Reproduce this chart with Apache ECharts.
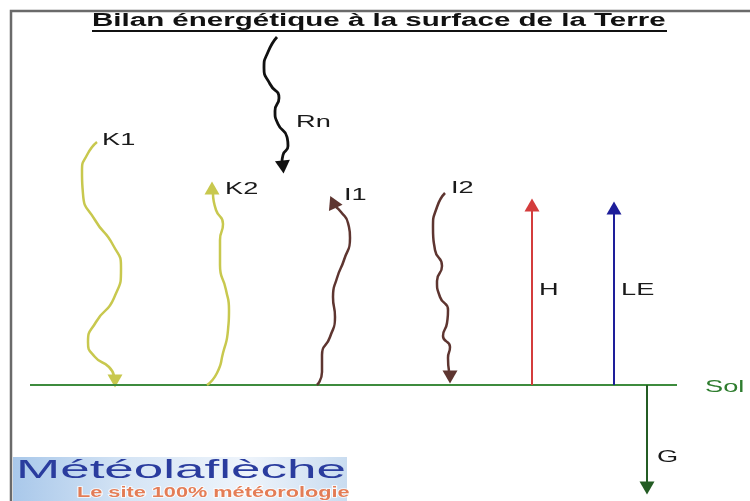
<!DOCTYPE html>
<html>
<head>
<meta charset="utf-8">
<script src="https://cdn.jsdelivr.net/npm/echarts@6/dist/echarts.min.js"></script>
<style>
    html, body { margin: 0; padding: 0; background: #fff; }
    #main { width: 750px; height: 501px; }
</style>
</head>
<body>
<div id="main"></div>
<script>
// picture space: x to the right, y downwards (0..750, 0..501)
var rnPath = [[277,37],[268,52],[264,68],[270,84],[279,98],[275,111],[278,124],[287,137],[288,146],[283,155],[282,162]];
var k1Path = [[97,142],[87,155],[82,171],[83,194],[95,220],[113,245],[121,268],[114,298],[96,322],[88,342],[95,357],[109,367],[114,376]];
var k2Path = [[207,385],[217,373],[223,353],[228,330],[229,310],[226,290],[220,265],[220,240],[223,224],[216,210],[213,194]];
var i1Path = [[317,385],[322,372],[322,355],[330,337],[335,317],[333,297],[337,278],[344,260],[350,238],[348,223],[341,212],[336,207]];
var i2Path = [[445,193],[437,207],[433,228],[435,250],[442,266],[437,281],[440,297],[448,310],[447,323],[443,336],[450,347],[448,358],[449,371]];
var hPath  = [[532,385],[532,210]];
var lePath = [[614,385],[614,212]];
var gPath  = [[647,385],[647,482]];
var solLine = [[30,385],[677,385]];

var arrowNames = ['Rn', 'K1', 'K2', 'I1', 'I2', 'H', 'LE', 'G'];
var arrowPaths = [rnPath, k1Path, k2Path, i1Path, i2Path, hPath, lePath, gPath];
var arrowHeads = [[283,167], [115,381], [212,188], [333,202], [450,377], [532,205], [614,208], [647,488]];
var arrowDirs  = [185, 180, 0, 25, 180, 0, 0, 180];

var labelNames  = ['Rn', 'K1', 'K2', 'I1', 'I2', 'H', 'LE', 'G', 'Sol'];
var labelPoints = [[296,122], [102,140], [225,189], [344,195], [451,188], [539,290], [621,290], [657,457], [705,387]];

var titleText = 'Bilan énergétique à la surface de la Terre';
var logoText = 'Météolaflèche';
var logoSub = 'Le site 100% météorologie';

// styles
var arrowColors = ['#111111', '#c8c84e', '#c8c84e', '#5e3530', '#5e3530', '#d43c3c', '#1e1e9a', '#245c24'];
var arrowWidths = [2.8, 2.5, 2.5, 2.5, 2.5, 2, 2, 2];
var solColor = '#3d8b3d';
var fontName = '"Liberation Sans", Arial, sans-serif';

var chart = echarts.init(document.getElementById('main'));

var series = [{
    type: 'line',
    data: solLine,
    symbol: 'none',
    lineStyle: { color: solColor, width: 2 },
    silent: true
}];
arrowPaths.forEach(function(p, i) {
    series.push({
        name: arrowNames[i],
        type: 'line',
        data: p,
        smooth: p.length > 2 ? 0.6 : false,
        symbol: 'none',
        lineStyle: { color: arrowColors[i], width: arrowWidths[i] },
        silent: true
    });
    series.push({
        type: 'scatter',
        data: [{ value: arrowHeads[i], symbolRotate: arrowDirs[i] }],
        symbol: 'triangle',
        symbolSize: [15, 13],
        itemStyle: { color: arrowColors[i], opacity: 1 },
        silent: true
    });
});

chart.setOption({
    animation: false,
    backgroundColor: '#ffffff',
    grid: { left: 0, right: 0, top: 0, bottom: 0 },
    xAxis: { type: 'value', min: 0, max: 750, show: false },
    yAxis: { type: 'value', min: 0, max: 501, inverse: true, show: false },
    series: series
});

// texts: the source picture is stretched sideways, so texts are widened too
var graphics = [
    {
        type: 'polyline',
        shape: { points: [[11, 501], [11, 11], [750, 11]] },
        style: { stroke: '#6a6a6a', lineWidth: 2.5, fill: null }
    },
    {
        type: 'text', x: 92, y: 21, scaleX: 1.64,
        style: { text: titleText, font: 'bold 18px ' + fontName, fill: '#111',
                 verticalAlign: 'middle', textVerticalAlign: 'middle' }
    },
    {
        type: 'line',
        shape: { x1: 92, y1: 31, x2: 667, y2: 31 },
        style: { stroke: '#111', lineWidth: 2 }
    },
    {
        type: 'rect',
        shape: { x: 13, y: 457, width: 334, height: 44 },
        style: {
            fill: new echarts.graphic.LinearGradient(0, 0, 1, 0, [
                { offset: 0, color: '#a9c8ea' },
                { offset: 0.35, color: '#d6e5f5' },
                { offset: 0.7, color: '#eef4fb' },
                { offset: 1, color: '#c9dcf0' }
            ])
        }
    },
    {
        type: 'text', x: 16, y: 471, scaleX: 2.12,
        style: { text: logoText, font: '25px ' + fontName, fill: '#2a3c9e',
                 verticalAlign: 'middle', textVerticalAlign: 'middle' }
    },
    {
        type: 'text', x: 77, y: 493, scaleX: 1.55,
        style: { text: logoSub, font: 'bold 14px ' + fontName, fill: '#e0673a',
                 stroke: '#ffffff', lineWidth: 1.5, opacity: 0.85,
                 verticalAlign: 'middle', textVerticalAlign: 'middle' }
    }
];

labelPoints.forEach(function(pt, i) {
    var px = chart.convertToPixel({ gridIndex: 0 }, pt);
    graphics.push({
        type: 'text', x: px[0], y: px[1], scaleX: 1.6,
        style: { text: labelNames[i], font: '17px ' + fontName,
                 fill: labelNames[i] === 'Sol' ? '#2f7d2f' : '#1a1a1a',
                 verticalAlign: 'middle', textVerticalAlign: 'middle' }
    });
});

chart.setOption({ graphic: graphics });
</script>
</body>
</html>
